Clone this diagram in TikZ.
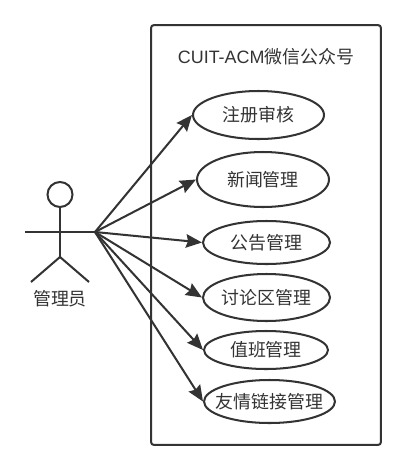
\documentclass[tikz,border=0pt]{standalone}
\usepackage{fontspec}
\setmainfont{Liberation Sans}
\newfontfamily\cjk{Noto Sans CJK SC}
\usepackage{tikz}
\usetikzlibrary{arrows.meta,shapes.geometric}
\definecolor{inkgray}{HTML}{333333}
\tikzset{
	line/.style={draw=inkgray,line width=1.15pt},
	usecase/.style={ellipse,line,text=inkgray,inner sep=0pt,font=\fontsize{10.2}{12}\selectfont\cjk},
	assoc/.style={line,-{Stealth[length=0.32cm,width=0.27cm,inset=0.04cm]}},
	caption/.style={text=inkgray,inner sep=0pt,font=\fontsize{10.2}{12}\selectfont},
}
\begin{document}
\begin{tikzpicture}[x=0.02cm,y=-0.02cm]
	\useasboundingbox (0,0) rectangle (406,471);
	% system boundary
	\node[line,rectangle,rounded corners=0.06cm,minimum width=4.6cm,minimum height=8.4cm,inner sep=0pt] (system) at (266,235) {};
	\node[caption] (title) at (266,57) {CUIT-ACM{\cjk 微信公众号}};
	% actor
	\node[circle,line,minimum size=0.5cm,inner sep=0pt] (head) at (60,194.5) {};
	\coordinate (hip) at (60,257);
	\coordinate (armL) at (25,232);
	\coordinate (armR) at (95,232);
	\coordinate (legL) at (31,282);
	\coordinate (legR) at (89,282);
	\draw[line] (head.south) -- (hip);
	\draw[line] (armL) -- (armR);
	\draw[line] (legL) -- (hip) -- (legR);
	\node[caption,font=\fontsize{10.2}{12}\selectfont\cjk] (admin) at (60,299) {管理员};
	% use cases
	\foreach \nm/\x/\y/\w/\h/\txt in {
		review/258.5/115/131/48/注册审核,
		news/263/179.5/132/55/新闻管理,
		notice/266.5/242.5/127/43/公告管理,
		forum/266.5/297.5/127/47/讨论区管理,
		duty/266/350/124/38/值班管理,
		links/269.5/401.5/131/43/友情链接管理}{
		\node[usecase,minimum width=\w*0.02cm,minimum height=\h*0.02cm] (\nm) at (\x,\y) {\makebox[0pt]{\raisebox{-0.04cm}{\txt}}};
		\draw[assoc] (armR) -- (\nm.west);
	}
\end{tikzpicture}
\end{document}
